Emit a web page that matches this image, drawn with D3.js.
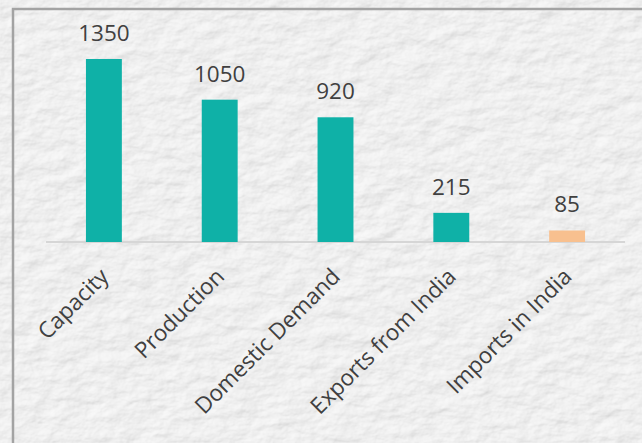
<!DOCTYPE html>
<html><head><meta charset="utf-8">
<script src="https://cdn.jsdelivr.net/npm/d3@7"></script>
<style>html,body{margin:0;padding:0;background:#ededed;overflow:hidden}</style>
</head><body>
<div id="chart"></div>
<script>
const categories = ["Capacity", "Production", "Domestic Demand", "Exports from India", "Imports in India"];
const values = [1350, 1050, 920, 215, 85];
const barColors = ["#0fb1a7", "#0fb1a7", "#0fb1a7", "#0fb1a7", "#f8c08f"];

const W = 642, H = 443;
const svg = d3.select("#chart").append("svg").attr("width", W).attr("height", H);

// paper texture
const defs = svg.append("defs");
const f = defs.append("filter").attr("id", "paper").attr("x", 0).attr("y", 0).attr("width", "100%").attr("height", "100%")
  .attr("color-interpolation-filters", "sRGB");
f.append("feTurbulence").attr("type", "fractalNoise").attr("baseFrequency", "0.04 0.07").attr("numOctaves", 5).attr("seed", 3).attr("result", "noise");
f.append("feDiffuseLighting").attr("in", "noise").attr("lighting-color", "#ffffff").attr("surfaceScale", 2.6).attr("result", "light")
  .append("feDistantLight").attr("azimuth", 45).attr("elevation", 55);
f.append("feColorMatrix").attr("in", "light").attr("type", "matrix")
  .attr("values", "0.22 0 0 0 0.757  0 0.22 0 0 0.757  0 0 0.22 0 0.757  0 0 0 0 1");
svg.append("rect").attr("width", W).attr("height", H).attr("fill", "#ececec").attr("filter", "url(#paper)");

// frame (left and top)
svg.append("path").attr("d", `M13,${H} L13,9 L${W},9`).attr("fill", "none").attr("stroke", "#a3a3a3").attr("stroke-width", 2.5);

const x = d3.scaleBand().domain(categories).range([46, 625]).paddingInner(0.69).paddingOuter(0.345);
const y = d3.scaleLinear().domain([0, 1350]).range([242, 59]);

// axis line
svg.append("line").attr("x1", 46).attr("x2", 625).attr("y1", y(0)).attr("y2", y(0))
  .attr("stroke", "#d6d6d6").attr("stroke-width", 2);

svg.selectAll("rect.bar").data(values).join("rect").attr("class", "bar")
  .attr("x", (d, i) => x(categories[i]))
  .attr("width", x.bandwidth())
  .attr("y", d => y(d))
  .attr("height", d => y(0) - y(d))
  .attr("fill", (d, i) => barColors[i]);

svg.selectAll("text.val").data(values).join("text").attr("class", "val")
  .attr("x", (d, i) => x(categories[i]) + x.bandwidth() / 2)
  .attr("y", d => y(d) - 18)
  .attr("text-anchor", "middle")
  .attr("font-family", "Open Sans")
  .attr("font-size", 22.5)
  .attr("fill", "#404040")
  .text(d => d);

svg.selectAll("text.cat").data(categories).join("text").attr("class", "cat")
  .attr("transform", d => `translate(${x(d) + x.bandwidth() / 2 + 6},${278}) rotate(-45)`)
  .attr("text-anchor", "end")
  .attr("font-family", "Open Sans")
  .attr("font-size", 22.5)
  .attr("fill", "#404040")
  .text(d => d);
</script>
</body></html>
